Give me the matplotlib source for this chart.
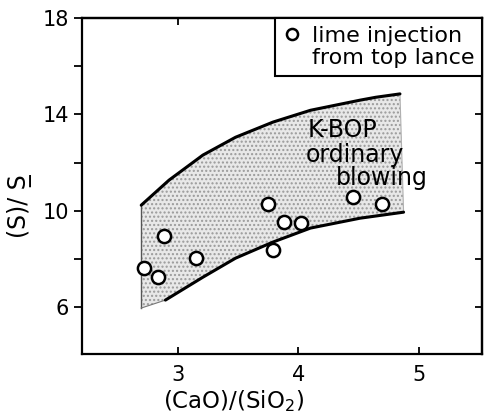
import matplotlib
matplotlib.use("Agg")
import matplotlib.pyplot as plt
import numpy as np
from matplotlib.lines import Line2D

# measured data: lime injection from top lance
basicity = [2.72, 2.84, 2.89, 3.15, 3.75, 3.79, 3.88, 4.02, 4.45, 4.69]
s_ratio = [7.62, 7.24, 8.95, 8.03, 10.3, 8.37, 9.53, 9.49, 10.56, 10.3]

# K-BOP ordinary blowing band
upper_x = [2.70, 2.93, 3.21, 3.48, 3.79, 4.10, 4.51, 4.64, 4.84]
upper_y = [10.23, 11.27, 12.31, 13.05, 13.68, 14.17, 14.59, 14.71, 14.85]
lower_x = [2.90, 3.21, 3.48, 3.79, 4.10, 4.51, 4.87]
lower_y = [6.29, 7.24, 8.03, 8.70, 9.28, 9.69, 9.94]
band_left_x = 2.70
band_left_bottom = 5.96

x_ticks = [3, 4, 5]
y_ticks = [6, 10, 14, 18]
y_minor = [8, 12, 16]

plt.rcParams["font.family"] = "DejaVu Sans"

fig = plt.figure(figsize=(4.91, 4.19), dpi=100)
ax = fig.add_axes([0.167, 0.155, 0.815, 0.802])

# shaded band
poly_x = np.concatenate([[band_left_x], upper_x, lower_x[::-1], [band_left_x]])
poly_y = np.concatenate([[band_left_bottom], upper_y, lower_y[::-1], [band_left_bottom]])
ax.fill(poly_x, poly_y, facecolor="#e8e8e8", edgecolor="#9a9a9a", hatch="....", lw=0)
ax.plot([band_left_x, band_left_x], [band_left_bottom, upper_y[0]], color="#555555", lw=1.0)
ax.plot([band_left_x, lower_x[0]], [band_left_bottom, lower_y[0]], color="#777777", lw=0.8)
ax.plot([upper_x[-1], lower_x[-1]], [upper_y[-1], lower_y[-1]], color="#b0b0b0", lw=0.8)

ax.plot(upper_x, upper_y, color="black", lw=2.2, solid_capstyle="round")
ax.plot(lower_x, lower_y, color="black", lw=2.2, solid_capstyle="round")

ax.plot(basicity, s_ratio, "o", ms=9.5, mfc="white", mec="black", mew=1.8, ls="none")

ax.text(4.08, 13.05, "K-BOP", fontsize=17, va="baseline")
ax.text(4.06, 12.02, "ordinary", fontsize=17, va="baseline")
ax.text(4.31, 11.06, "blowing", fontsize=17, va="baseline")

ax.set_xlim(2.21, 5.52)
ax.set_ylim(4.05, 18)

ax.set_xticks(x_ticks)
ax.set_yticks(y_ticks)
ax.set_yticks(y_minor, minor=True)
ax.tick_params(axis="x", direction="in", length=5, width=1.3, labelsize=15, pad=8)
ax.tick_params(axis="y", which="both", direction="out", length=6, width=1.3, labelsize=15)

sec_r = ax.secondary_yaxis("right")
sec_r.set_yticks([6, 8, 10, 12, 14, 16])
sec_r.tick_params(direction="in", length=5, width=1.3, labelright=False)
sec_t = ax.secondary_xaxis("top")
sec_t.set_xticks([3, 4])
sec_t.tick_params(direction="in", length=5, width=1.3, labeltop=False)
for s in list(ax.spines.values()) + [sec_r.spines["right"], sec_t.spines["top"]]:
    s.set_linewidth(1.6)

ax.set_xlabel("(CaO)/(SiO$_2$)", fontsize=16.5)
ax.xaxis.set_label_coords(0.38, -0.1)
ax.set_ylabel("(S)/ S\u0332", fontsize=17)
ax.yaxis.set_label_coords(-0.125, 0.44)

handles = [
    Line2D([], [], marker="o", ls="none", ms=8, mfc="white", mec="black", mew=1.8),
    Line2D([], [], ls="none"),
]
leg = ax.legend(handles, ["lime injection", "from top lance"], loc="upper right",
                bbox_to_anchor=(1, 1), borderaxespad=0, fancybox=False,
                framealpha=1, edgecolor="black", fontsize=16, labelspacing=0.12,
                handlelength=0.8, handletextpad=0.5, borderpad=0.35)
leg.get_frame().set_linewidth(1.5)

fig.savefig("out.png", dpi=100)
